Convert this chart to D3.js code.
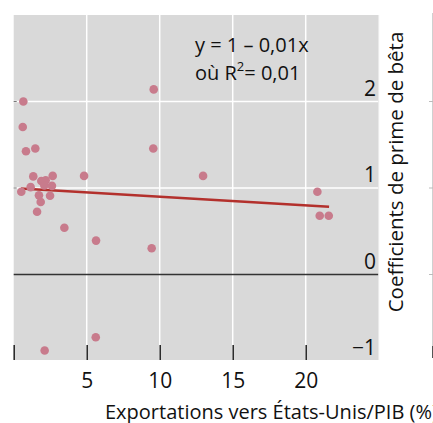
<!DOCTYPE html>
<html><head><meta charset="utf-8">
<script src="https://cdn.jsdelivr.net/npm/d3@7"></script>
<style>
html,body{margin:0;padding:0;background:#fff;}
svg{display:block;}
text{font-family:"Open Sans","Noto Sans",sans-serif;fill:#111;}
</style></head>
<body>
<script>
// Data
const exportsX = [0.66,0.62,0.84,1.48,9.59,9.56,12.97,4.82,1.34,2.67,1.89,2.19,2.10,2.62,1.16,0.52,1.73,2.49,1.85,1.60,3.47,5.64,9.45,5.62,2.12,20.8,20.96,21.58];
const betaY    = [2.00,1.705,1.425,1.456,2.14,1.456,1.14,1.14,1.134,1.14,1.08,1.09,1.03,1.025,1.01,0.956,0.915,0.91,0.838,0.726,0.541,0.392,0.304,-0.726,-0.879,0.956,0.68,0.68];
const fitX = [0.5, 21.6];
const fitY = [0.995, 0.784];
const xTicks = [0,5,10,15,20];
const xTickLabels = ["","5","10","15","20"];
const yTicks = [-1,0,1,2];
const yTickLabels = ["\u22121","0","1","2"];
const eqLine1 = "y = 1 \u2013 0,01x";
const xTitle = "Exportations vers \u00c9tats-Unis/PIB (%)";
const yTitle = "Coefficients de prime de b\u00eata";

const W=433,H=423;
const L=13.7,R=378.7,T=15,B=360;
const svg=d3.select("body").append("svg").attr("width",W).attr("height",H);
const x=d3.scaleLinear().domain([0,25]).range([L,R]);
const y=d3.scaleLinear().domain([-1,3]).range([361,15]);

svg.append("rect").attr("x",L).attr("y",T).attr("width",R-L).attr("height",B-T).attr("fill","#d9d9d9");

// grid
svg.append("g").selectAll("line").data(xTicks.filter(d=>d>0)).join("line")
  .attr("x1",d=>x(d)).attr("x2",d=>x(d)).attr("y1",T).attr("y2",B)
  .attr("stroke","#fff").attr("stroke-width",1.5);
svg.append("g").selectAll("line").data(yTicks.filter(d=>d>0)).join("line")
  .attr("x1",L).attr("x2",R).attr("y1",d=>y(d)).attr("y2",d=>y(d))
  .attr("stroke","#fff").attr("stroke-width",1.5);
// zero line
svg.append("line").attr("x1",L).attr("x2",R).attr("y1",y(0)).attr("y2",y(0))
  .attr("stroke","#333").attr("stroke-width",1.5);

// right edge light border and neighbouring panel edge
svg.append("line").attr("x1",R).attr("x2",R).attr("y1",T).attr("y2",B).attr("stroke","#ececec").attr("stroke-width",1);
svg.append("line").attr("x1",432.5).attr("x2",432.5).attr("y1",13).attr("y2",352).attr("stroke","#d0d0d0").attr("stroke-width",1);
svg.append("line").attr("x1",432.5).attr("x2",432.5).attr("y1",346).attr("y2",358).attr("stroke","#555").attr("stroke-width",1);
svg.append("g").selectAll("line").data(yTicks.filter(d=>d>=0)).join("line")
  .attr("x1",429).attr("x2",433).attr("y1",d=>y(d)).attr("y2",d=>y(d)).attr("stroke","#bbb");
// left small ticks
svg.append("g").selectAll("line").data(yTicks.filter(d=>d>0)).join("line")
  .attr("x1",L).attr("x2",L+3).attr("y1",d=>y(d)).attr("y2",d=>y(d)).attr("stroke","#777");

// x axis ticks (inside) + labels
const xAxis=d3.axisBottom(x).tickValues(xTicks).tickSize(0).tickFormat((d,i)=>xTickLabels[i]);
const gx=svg.append("g").attr("transform",`translate(0,${B})`).call(xAxis);
gx.select(".domain").remove();
gx.selectAll(".tick text").attr("y",28).attr("dy",0).style("font-size","21px").attr("fill","#111")
  .style("font-family","'Open Sans','Noto Sans',sans-serif");
gx.selectAll(".tick").append("line").attr("y1",-15).attr("y2",0).attr("stroke","#222").attr("stroke-width",1.5);

// y tick labels (inside, right, above line)
svg.append("g").selectAll("text").data(yTicks).join("text")
  .attr("x",376).attr("y",d=>y(d)-6).attr("text-anchor","end")
  .style("font-size","21px").text((d,i)=>yTickLabels[i]);

// fit line
svg.append("line").attr("x1",x(fitX[0])).attr("y1",y(fitY[0])).attr("x2",x(fitX[1])).attr("y2",y(fitY[1]))
  .attr("stroke","#b3302c").attr("stroke-width",2.5);

// points
svg.append("g").selectAll("circle").data(exportsX.map((d,i)=>[d,betaY[i]])).join("circle")
  .attr("cx",d=>x(d[0])).attr("cy",d=>y(d[1])).attr("r",4.3).attr("fill","#c87b8c");

// equation
svg.append("text").attr("x",195).attr("y",52).style("font-size","20px").text(eqLine1);
const t2=svg.append("text").attr("x",195).attr("y",80).style("font-size","20px");
t2.append("tspan").text("o\u00f9 R");
t2.append("tspan").attr("dy",-9).style("font-size","13px").text("2");
t2.append("tspan").attr("dy",9).text("= 0,01");

// titles
svg.append("text").attr("x",105).attr("y",419).style("font-size","20px").text(xTitle);
svg.append("text").attr("transform","translate(403,172) rotate(-90)").attr("text-anchor","middle")
  .style("font-size","20.5px").text(yTitle);
</script>
</body></html>
